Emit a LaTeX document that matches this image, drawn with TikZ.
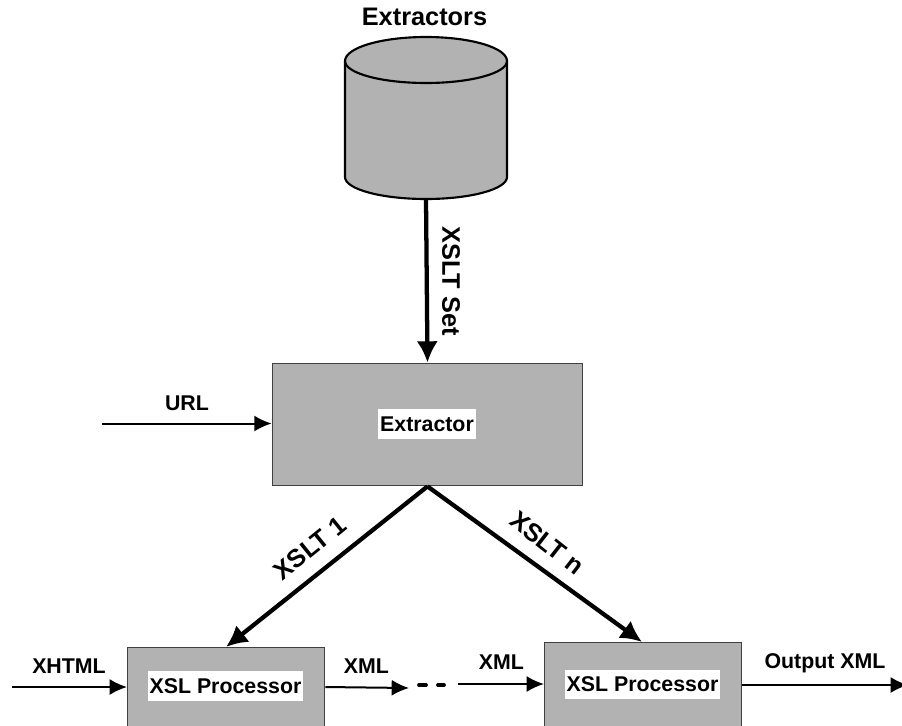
\documentclass[tikz,border=0pt]{standalone}
\usepackage{fontspec}
\setmainfont{Liberation Sans}
\usetikzlibrary{arrows.meta,positioning}

\tikzset{
	procbox/.style={draw=black!75,fill=black!30,line width=0.8pt,inner sep=0pt},
	store/.style={fill=black!30,draw,line width=1.6pt},
	tag/.style={font=\bfseries\fontsize{16}{18}\selectfont,inner sep=1pt},
	bigtag/.style={font=\bfseries\fontsize{19}{21}\selectfont,inner sep=1pt},
	whitetag/.style={tag,fill=white,inner sep=1.5pt,minimum height=22pt},
	thin flow/.style={line width=1.5pt,arrows={-Latex[length=13pt,width=12pt]}},
	thick flow/.style={line width=3.2pt,arrows={-Latex[length=16pt,width=16pt]}},
}

\begin{document}
\begin{tikzpicture}[x=0.75pt,y=-0.75pt]
	\useasboundingbox (0,0) rectangle (902,725);
	\clip (0,0) rectangle (902,725);
	% cylinder
	\path[store] (345,61) -- (345,177) arc[start angle=180,end angle=0,x radius=81,y radius=22] -- (507,61) arc[start angle=0,end angle=-180,x radius=81,y radius=24] -- cycle;
	\draw[store,fill=none] (345,61) arc[start angle=180,end angle=0,x radius=81,y radius=22];
	\node[inner sep=0pt,minimum width=121.5pt,minimum height=121.5pt] (db) at (426,118) {};
	\node[bigtag] (dbtag) at (424.5,17) {Extractors};
	\node[procbox,minimum width=233pt,minimum height=92pt] (ext) at (427.5,424.5) {};
	\node[procbox,minimum width=148pt,minimum height=92pt,anchor=north west] (p1) at (127,647) {};
	\node[procbox,minimum width=148pt,minimum height=92pt,anchor=north west] (p2) at (544,642) {};
	\node[whitetag] (exttag) at (427,424) {Extractor};
	\node[whitetag] (p1tag) at (225.5,686) {XSL Processor};
	\node[whitetag] (p2tag) at (642.5,684.5) {XSL Processor};
	\coordinate (apex) at (ext.south);
	\coordinate (p1in) at (226,647);
	\coordinate (p2in) at (642,642);
	\coordinate (urlin) at (102,423.5);
	\coordinate (xhtmlin) at (12,687);
	\coordinate (xmlout) at (409,688);
	\coordinate (xmlin) at (458,684);
	\coordinate (outend) at (908,685);
	\coordinate (dot1) at (419,685);
	\coordinate (dot2) at (426,685);
	\coordinate (dot3) at (438,685);
	\coordinate (dot4) at (444,685);
	\draw[thick flow] (db.south) -- (ext.north);
	\draw[thick flow] (apex) -- (p1in);
	\draw[thick flow] (apex) -- (p2in);
	\draw[thin flow] (urlin) -- (urlin -| ext.west);
	\draw[thin flow] (xhtmlin) -- (xhtmlin -| p1.west);
	\draw[thin flow] (p1.east |- xhtmlin) -- (xmlout);
	\draw[thin flow] (xmlin) -- (xmlin -| p2.west);
	\draw[thin flow] (p2.east |- outend) -- (outend);
	\draw[line width=2.8pt,line cap=round] (dot1) -- (dot2) (dot3) -- (dot4);
	\node[bigtag,rotate=-90] (settag) at (451,281) {XSLT Set};
	\node[tag] (urltag) at (187,403) {URL};
	\node[bigtag,rotate=39] (onetag) at (310,548) {XSLT 1};
	\node[bigtag,rotate=-38] (ntag) at (547,543) {XSLT n};
	\node[tag] (xhtmltag) at (69,666) {XHTML};
	\node[tag] (xmltag) at (366.5,666) {XML};
	\node[tag] (xmltagb) at (501.5,662) {XML};
	\node[tag] (outtag) at (825,663) {Output XML};
\end{tikzpicture}
\end{document}
